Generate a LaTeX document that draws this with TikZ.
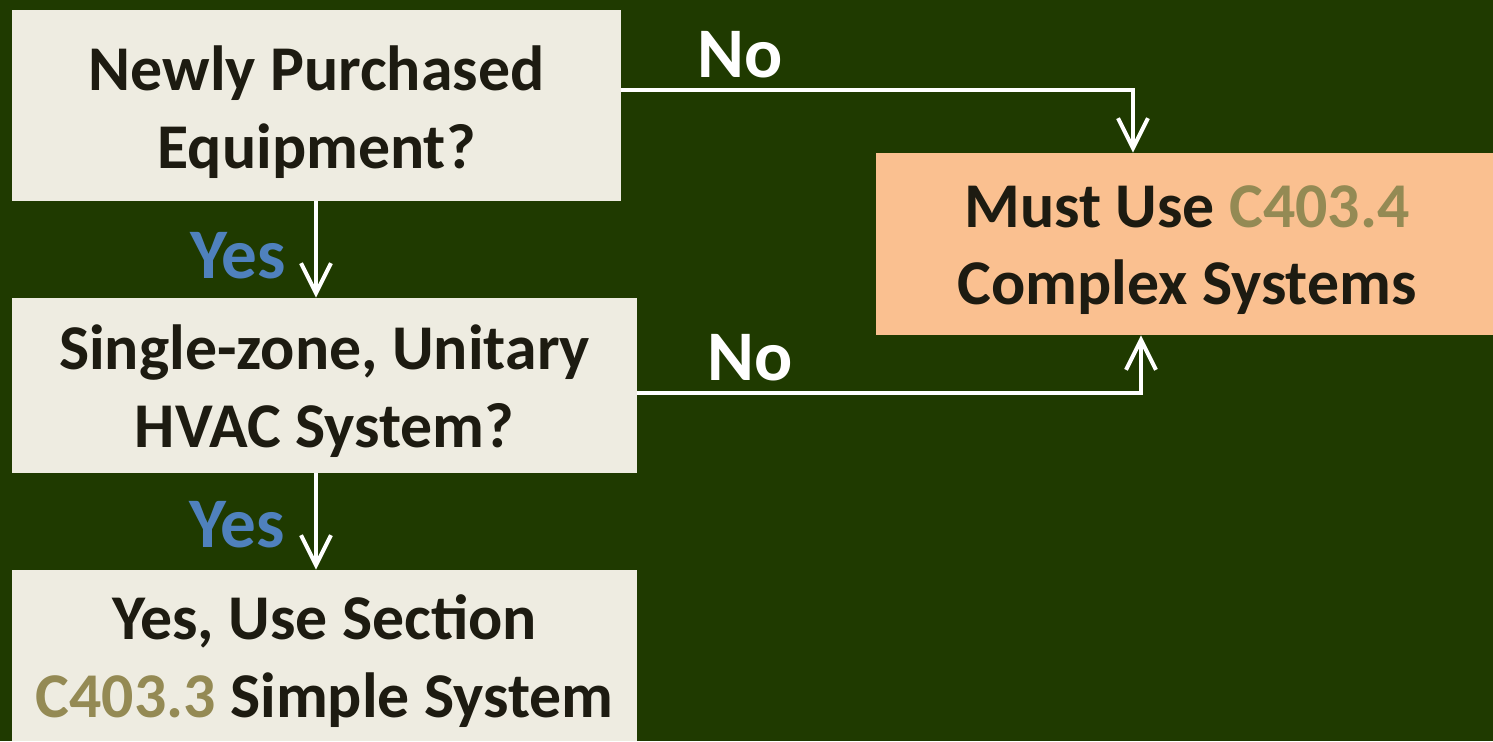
\documentclass[tikz,border=0pt]{standalone}
\usepackage{fontspec}
\setmainfont{Carlito}
\usetikzlibrary{arrows.meta}
\definecolor{bggreen}{RGB}{31,58,0}
\definecolor{boxcream}{RGB}{238,236,225}
\definecolor{boxorange}{RGB}{250,192,144}
\definecolor{codeolive}{RGB}{148,138,84}
\definecolor{yesblue}{RGB}{79,129,189}
\definecolor{textdark}{RGB}{29,27,17}

\begin{document}
\begin{tikzpicture}[x=0.02cm, y=-0.02cm,
    box/.style={fill=boxcream, text=textdark, align=center, inner sep=0pt,
        font=\fontsize{36.3}{44}\selectfont\bfseries},
    lbl/.style={font=\fontsize{40.5}{48}\selectfont\bfseries},
    link/.style={white, line width=2.3pt, -{Straight Barb[length=0.6cm, width=0.6cm, line width=2.3pt]}}]
        % Background
        \fill[bggreen] (0,0) rectangle (1493,741);
        \useasboundingbox (0,0) rectangle (1493,741);

        % Draw the boxes
        \node[box, minimum width=12.18cm, minimum height=3.82cm] (buy) at (316.5,105.5) {};
        \node[box, minimum width=12.5cm, minimum height=3.5cm] (zone) at (324.5,385.5) {};
        \node[box, minimum width=12.5cm, minimum height=3.42cm] (simple) at (324.5,655.5) {};
        \node[box, fill=boxorange, minimum width=12.34cm, minimum height=3.64cm] (complex) at (1184.5,244) {};

        % Box texts (set a little below the box centres)
        \node[box, fill=none] (buytext) at (316.5,112) {Newly Purchased\\Equipment?};
        \node[box, fill=none] (zonetext) at (324.5,391) {Single-zone, Unitary\\HVAC System?};
        \node[box, fill=none] (simpletext) at (324.5,661) {Yes, Use Section\\\textcolor{codeolive}{C403.3} Simple System};
        \node[box, fill=none] (complextext) at (1187,250) {Must Use \textcolor{codeolive}{C403.4}\\Complex Systems};

        % Draw the links
        \draw[link] (buy.south -| 316,0) -- (zone.north -| 316,0);
        \draw[link] (zone.south -| 316,0) -- (simple.north -| 316,0);
        \draw[link] (buy.east |- 0,90) -| (complex.north -| 1133,0);
        \draw[link] (zone.east |- 0,393) -| (complex.south -| 1141,0);

        % Labels
        \node[lbl, yesblue] (yes1) at (238,256) {Yes};
        \node[lbl, yesblue] (yes2) at (237,525) {Yes};
        \node[lbl, white] (no1) at (740,55) {No};
        \node[lbl, white] (no2) at (750,358) {No};
    \end{tikzpicture}
\end{document}
